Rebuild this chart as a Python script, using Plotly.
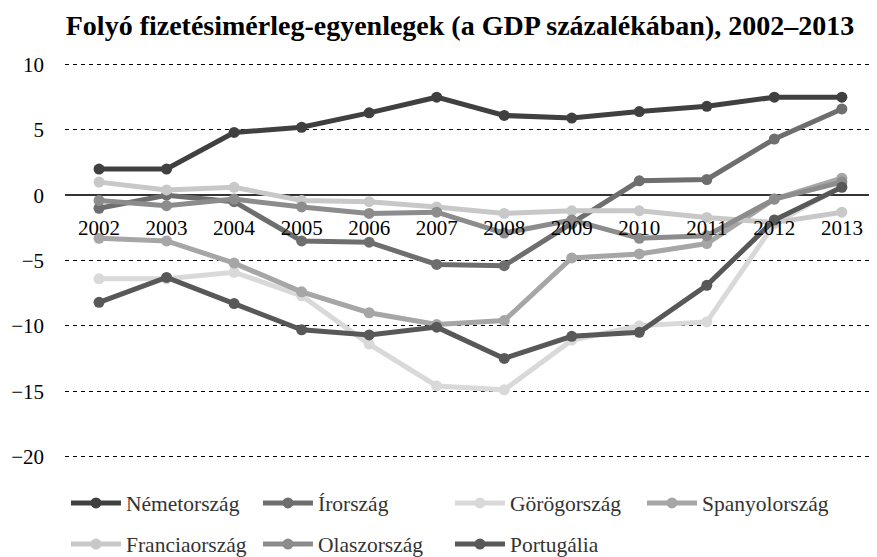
import plotly.graph_objects as go

# ── data ──────────────────────────────────────────────────────────────────────
years = [2002, 2003, 2004, 2005, 2006, 2007, 2008, 2009, 2010, 2011, 2012, 2013]

nemetorszag = [2.0, 2.0, 4.8, 5.2, 6.3, 7.5, 6.1, 5.9, 6.4, 6.8, 7.5, 7.5]
irorszag = [-1.0, 0.0, -0.5, -3.5, -3.6, -5.3, -5.4, -2.2, 1.1, 1.2, 4.3, 6.6]
gorogorszag = [-6.4, -6.4, -5.9, -7.7, -11.4, -14.6, -14.9, -11.1, -10.0, -9.7, -2.2, 0.7]
spanyolorszag = [-3.3, -3.5, -5.2, -7.4, -9.0, -9.9, -9.6, -4.8, -4.5, -3.7, -0.3, 1.3]
franciaorszag = [1.0, 0.4, 0.6, -0.4, -0.5, -0.9, -1.4, -1.2, -1.2, -1.7, -2.1, -1.3]
olaszorszag = [-0.4, -0.8, -0.3, -0.9, -1.4, -1.3, -2.9, -1.9, -3.3, -3.1, -0.3, 1.0]
portugalia = [-8.2, -6.3, -8.3, -10.3, -10.7, -10.1, -12.5, -10.8, -10.5, -6.9, -1.9, 0.6]

series = [
    ("Németország", nemetorszag, "#404040", "legend"),
    ("Írország", irorszag, "#6e6e6e", "legend"),
    ("Görögország", gorogorszag, "#d9d9d9", "legend"),
    ("Spanyolország", spanyolorszag, "#a6a6a6", "legend"),
    ("Franciaország", franciaorszag, "#c8c8c8", "legend2"),
    ("Olaszország", olaszorszag, "#8c8c8c", "legend2"),
    ("Portugália", portugalia, "#585858", "legend2"),
]

Y_MIN, Y_MAX = -20.5, 10.5
FONT = "Liberation Serif, Times New Roman, serif"

fig = go.Figure()
for name, vals, color, leg in series:
    fig.add_trace(go.Scatter(
        x=years, y=vals, name=name, mode="lines+markers",
        line=dict(color=color, width=5),
        marker=dict(color=color, size=11),
        legend=leg,
    ))

# x axis sits on the zero line, like the original
zero_pos = (0 - Y_MIN) / (Y_MAX - Y_MIN)

legend_common = dict(
    orientation="h", xanchor="left", yanchor="middle",
    xref="container", yref="container",
    font=dict(family=FONT, size=21.5, color="#333"),
    entrywidth=127, entrywidthmode="pixels", itemwidth=50,
    bgcolor="rgba(0,0,0,0)", traceorder="normal",
)

# margins allow for the page's own 8px body margin
fig.update_layout(
    width=877, height=557,
    margin=dict(l=57, r=8, t=50, b=102),
    plot_bgcolor="white", paper_bgcolor="white",
    font=dict(family=FONT, size=21, color="black"),
    title=dict(
        text="<b>Folyó fizetésimérleg-egyenlegek (a GDP százalékában), 2002–2013</b>",
        x=0.5154, xanchor="center", y=0.969, yanchor="middle",
        font=dict(family=FONT, size=28, color="black"),
    ),
    xaxis=dict(
        range=[2001.496, 2013.52], tickmode="array", tickvals=years,
        ticktext=[str(y) for y in years],
        anchor="free", position=zero_pos, showline=False, showgrid=False,
        zeroline=False, ticks="", ticklabelstandoff=18, automargin=False,
        tickfont=dict(family=FONT, size=21, color="black"),
    ),
    yaxis=dict(
        range=[Y_MIN, Y_MAX], tickvals=[-20, -15, -10, -5, 0, 5, 10],
        showgrid=True, gridcolor="black", gridwidth=1, griddash="4px,4px",
        zeroline=True, zerolinecolor="#333", zerolinewidth=1.5,
        showline=False, ticks="", ticklabelstandoff=20, automargin=False,
        tickfont=dict(family=FONT, size=21, color="black"),
    ),
    legend=dict(x=0.0661, y=0.1114, **legend_common),
    legend2=dict(x=0.0661, y=0.0376, **legend_common),
)

fig.write_html("out.html")
